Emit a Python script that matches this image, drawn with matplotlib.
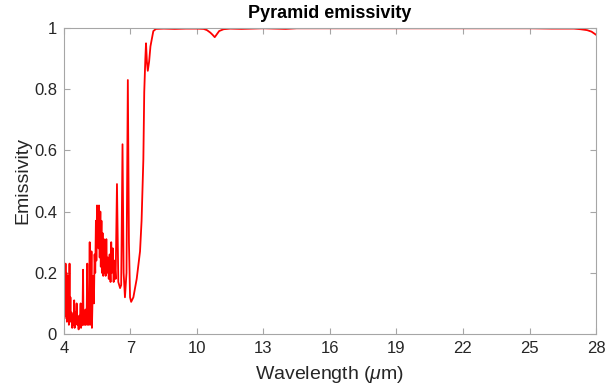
import matplotlib
matplotlib.use('Agg')
import matplotlib.pyplot as plt

# wavelength (um) and emissivity
wavelength = [4.00, 4.02, 4.05, 4.07, 4.09, 4.11, 4.13, 4.16, 4.18, 4.20,
              4.22, 4.25, 4.27, 4.29, 4.31, 4.34, 4.37, 4.40, 4.43, 4.46,
              4.48, 4.51, 4.54, 4.57, 4.60, 4.63, 4.66, 4.69, 4.72, 4.75,
              4.77, 4.80, 4.83, 4.86, 4.88, 4.91, 4.94, 4.97, 4.99, 5.02,
              5.05, 5.07, 5.10, 5.13, 5.16, 5.18, 5.21, 5.24, 5.26, 5.29,
              5.32, 5.35, 5.38, 5.41, 5.44, 5.46, 5.49, 5.51, 5.53, 5.56,
              5.58, 5.61, 5.64, 5.66, 5.69, 5.71, 5.74, 5.77, 5.80, 5.82,
              5.85, 5.88, 5.91, 5.94, 5.98, 6.02, 6.06, 6.10, 6.13, 6.16,
              6.20, 6.24, 6.28, 6.33, 6.39, 6.45, 6.53, 6.58, 6.64, 6.69,
              6.75, 6.82, 6.88, 6.93, 6.98, 7.03, 7.13, 7.28, 7.43, 7.50,
              7.58, 7.62, 7.67, 7.70, 7.74, 7.78, 7.84, 7.90, 8.03, 8.15,
              8.5, 9.0, 9.5, 10.0, 10.3, 10.45, 10.6, 10.7, 10.8, 10.9,
              11.0, 11.2, 11.5, 12.0, 12.5, 13.0, 13.5, 14.0, 14.5, 15.0,
              16.0, 17.0, 18.0, 19.0, 20.0, 21.0, 22.0, 23.0, 24.0, 25.0,
              26.0, 27.0, 27.3, 27.6, 27.8, 28.0]
emissivity = [0.08, 0.05, 0.10, 0.23, 0.06, 0.20, 0.04, 0.19, 0.07, 0.15,
              0.03, 0.23, 0.05, 0.12, 0.04, 0.07, 0.02, 0.06, 0.03, 0.11,
              0.02, 0.07, 0.04, 0.10, 0.03, 0.05, 0.015, 0.06, 0.03, 0.10,
              0.02, 0.04, 0.03, 0.21, 0.03, 0.05, 0.03, 0.08, 0.03, 0.05,
              0.23, 0.03, 0.06, 0.03, 0.30, 0.05, 0.03, 0.27, 0.02, 0.12,
              0.19, 0.10, 0.26, 0.20, 0.37, 0.24, 0.42, 0.30, 0.41, 0.28,
              0.42, 0.25, 0.40, 0.22, 0.37, 0.20, 0.33, 0.19, 0.31, 0.20,
              0.29, 0.19, 0.31, 0.20, 0.25, 0.18, 0.26, 0.17, 0.30, 0.20,
              0.28, 0.17, 0.24, 0.18, 0.49, 0.17, 0.15, 0.16, 0.62, 0.20,
              0.12, 0.20, 0.83, 0.30, 0.12, 0.105, 0.12, 0.18, 0.27, 0.37,
              0.57, 0.79, 0.90, 0.95, 0.89, 0.86, 0.89, 0.94, 0.99, 0.997,
              0.998, 0.997, 0.998, 0.998, 0.997, 0.993, 0.985, 0.978, 0.970, 0.980,
              0.990, 0.996, 0.998, 0.997, 0.998, 0.999, 0.998, 0.997, 0.999, 0.999,
              0.999, 0.999, 0.999, 0.999, 0.999, 0.999, 0.999, 0.999, 0.999, 0.999,
              0.998, 0.998, 0.996, 0.993, 0.988, 0.978]

x_ticks = [4, 7, 10, 13, 16, 19, 22, 25, 28]
y_ticks = [0, 0.2, 0.4, 0.6, 0.8, 1]
y_labels = ['0', '0.2', '0.4', '0.6', '0.8', '1']

plt.rcParams['font.family'] = ['Liberation Sans', 'DejaVu Sans']
plt.rcParams['mathtext.fontset'] = 'custom'
plt.rcParams['mathtext.it'] = 'Liberation Sans:italic'
plt.rcParams['mathtext.rm'] = 'Liberation Sans'

fig = plt.figure(figsize=(6.06, 3.91), dpi=100)
ax = fig.add_axes([0.1056, 0.1458, 0.8779, 0.7826])

ax.plot(wavelength, emissivity, color='red', linewidth=1.3)

ax.set_xlim(4, 28)
ax.set_ylim(0, 1)
ax.set_xticks(x_ticks)
ax.set_yticks(y_ticks)
ax.set_yticklabels(y_labels)

for s in ax.spines.values():
    s.set_color('#a6a6a6')
    s.set_linewidth(0.8)
ax.tick_params(direction='in', length=4, width=0.8, color='#a6a6a6',
               top=True, right=True, labelsize=12, labelcolor='#262626', pad=5)

ax.set_xlabel(r'Wavelength ($\mu$m)', fontsize=14, color='#262626', labelpad=6)
ax.set_ylabel('Emissivity', fontsize=14, color='#262626', labelpad=2)
ax.set_title('Pyramid emissivity', fontsize=13, fontweight='bold', pad=7)

fig.savefig('out.png', dpi=100)
